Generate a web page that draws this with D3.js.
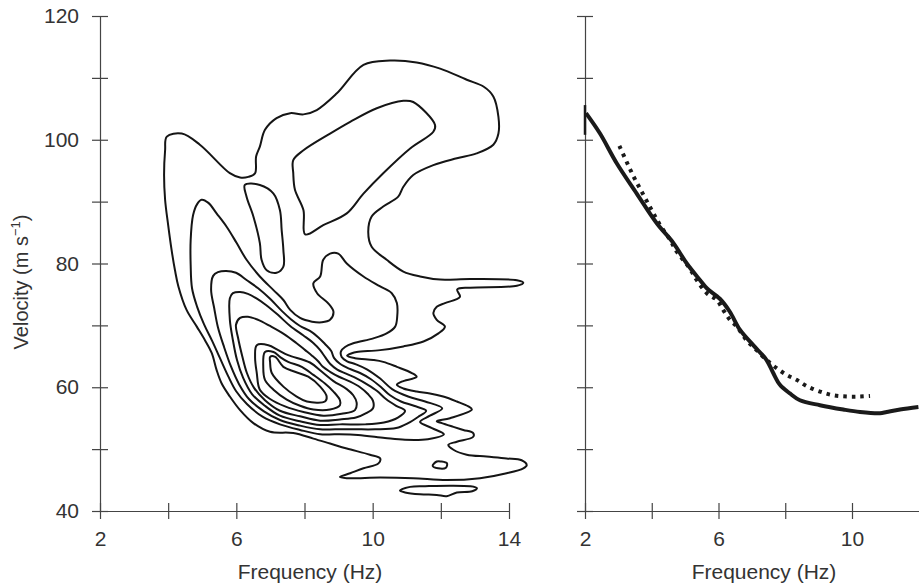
<!DOCTYPE html>
<html lang="en">
<head>
<meta charset="UTF-8">
<title>Dispersion image and picked curves</title>
<script src="https://d3js.org/d3.v7.min.js"></script>
<style>
  body { margin: 0; background: #fff; }
  svg { display: block; font-family: "Liberation Sans", Arial, Helvetica, sans-serif; }
  .axis path, .axis line { stroke: #444; stroke-width: 1.2; }
  .axis text { fill: #333; font-size: 21px; font-family: "Liberation Sans", Arial, sans-serif; }
  .contour { fill: none; stroke: #151515; stroke-width: 2; stroke-linejoin: round; }
  .title { fill: #333; font-size: 21px; }
</style>
</head>
<body>
<svg id="chart" width="919" height="586"></svg>
<script>
// ticks
const yTicks = [40, 50, 60, 70, 80, 90, 100, 110, 120];
const yTickLabels = [40, 60, 80, 100, 120];
const xTicksLeft = [2, 4, 6, 8, 10, 12, 14];
const xTicksRight = [2, 4, 6, 8, 10];
const xTickLabels = [2, 6, 10, 14];

// left panel: contour lines, [frequency Hz, velocity m/s]
const contourOuter = [
  [3.96,100.5],[4.40,101.0],[4.93,99.2],[5.81,94.6],[6.11,93.9],[6.35,94.0],[6.55,94.6],[6.58,97.3],[6.69,98.9],[6.84,101.6],
  [7.18,103.5],[7.58,104.3],[7.97,104.1],[8.36,104.8],[8.95,107.5],[9.73,112.1],[10.51,112.8],[11.29,112.5],[11.98,111.5],[12.76,109.7],
  [13.25,108.6],[13.54,107.0],[13.69,103.7],[13.69,101.0],[13.54,99.2],[13.05,97.8],[12.47,97.0],[11.78,95.9],[11.19,94.3],[10.90,92.4],
  [10.75,90.8],[10.31,89.2],[9.97,87.6],[9.87,85.1],[9.97,82.7],[10.41,80.6],[10.90,78.7],[11.39,77.9],[11.98,77.4],[12.86,77.5],
  [14.23,77.3],[14.42,76.9],[14.23,76.4],[12.86,76.1],[12.48,75.8],[12.56,74.6],[12.12,73.6],[11.88,73.0],[11.78,72.0],[11.88,70.9],
  [12.12,69.8],[11.93,68.7],[11.49,67.4],[10.90,66.6],[10.22,66.0],[9.53,65.7],[9.39,65.5],[9.25,65.1],[9.48,64.7],[10.02,64.4],
  [10.31,64.1],[10.71,63.3],[11.15,62.3],[11.29,61.7],[10.85,60.9],[10.71,60.4],[10.90,59.8],[11.29,59.3],[11.68,59.0],[12.07,58.5],
  [12.47,57.7],[12.81,56.9],[12.91,56.4],[12.27,55.0],[11.88,54.5],[12.03,54.2],[12.37,53.6],[12.66,53.1],[12.95,52.6],[12.95,52.0],
  [12.47,51.2],[12.22,50.7],[12.37,49.9],[12.76,49.1],[13.34,48.8],[13.93,48.5],[14.37,48.2],[14.52,47.4],[14.42,46.9],[13.93,46.1],
  [13.15,45.3],[12.17,45.0],[11.19,45.3],[10.22,45.4],[9.24,45.3],[9.04,45.5],[9.34,46.1],[9.73,46.9],[10.17,47.7],[10.22,48.5],
  [9.92,49.1],[9.24,50.1],[8.75,50.9],[8.26,51.7],[7.67,52.6],[6.99,52.8],[6.50,54.2],[6.11,56.3],[5.81,58.5],[5.57,60.6],
  [5.42,62.8],[5.28,65.5],[5.08,67.6],[4.84,69.8],[4.54,72.5],[4.30,76.3],[4.20,78.9],[4.10,82.2],[4.00,86.2],[3.91,90.3],
  [3.88,94.3],[3.91,98.3]
];
const contourHole = [
  [6.25,92.7],[6.69,92.7],[7.09,91.3],[7.28,88.6],[7.33,85.4],[7.38,82.2],[7.38,79.5],[7.18,78.5],[6.89,78.9],[6.74,80.6],
  [6.69,83.3],[6.50,87.6],[6.30,90.8]
];
const contourUpper = [
  [7.67,96.7],[7.97,98.3],[8.75,101.0],[9.34,102.9],[10.12,105.1],[10.90,106.3],[11.19,106.1],[11.83,102.4],[11.78,101.3],[11.10,98.6],
  [10.31,94.6],[9.73,91.3],[9.24,88.1],[8.55,86.2],[8.02,84.7],[7.97,88.6],[7.72,91.9],[7.67,94.6]
];
const contourD = [
  [4.98,90.3],[5.18,89.8],[5.42,88.1],[5.72,85.9],[6.01,83.3],[6.30,80.6],[6.69,77.9],[7.09,75.7],[7.38,74.1],[7.58,72.5],
  [7.87,71.2],[8.22,70.6],[8.51,70.5],[8.75,70.9],[8.85,72.2],[8.69,73.6],[8.37,75.2],[8.26,76.8],[8.46,77.9],[8.55,80.6],
  [8.75,81.6],[8.99,81.6],[9.24,80.0],[9.73,77.9],[10.22,76.3],[10.56,75.2],[10.71,73.6],[10.72,71.4],[10.66,69.8],[10.41,68.7],
  [10.02,67.9],[9.43,67.1],[9.19,66.5],[9.07,65.8],[9.09,64.9],[9.25,64.2],[9.51,63.7],[9.83,62.9],[10.22,61.4],[10.57,59.7],
  [11.04,58.5],[11.54,57.7],[12.04,56.6],[11.68,55.4],[11.39,54.4],[11.74,53.4],[12.09,52.4],[11.62,51.6],[10.95,51.5],[10.36,51.8],
  [9.57,52.3],[8.90,52.4],[8.46,52.4],[7.87,53.1],[7.28,54.0],[6.78,55.2],[6.31,57.3],[5.99,59.4],[5.76,61.8],[5.52,64.7],
  [5.29,67.5],[5.05,70.2],[4.85,73.0],[4.70,76.0],[4.66,79.8],[4.66,83.8],[4.73,87.8],[4.85,89.6]
];
const contourE = [
  [5.26,75.7],[5.32,78.0],[5.46,78.6],[5.70,78.8],[5.99,78.5],[6.31,77.3],[6.64,76.0],[6.99,74.3],[7.34,72.3],[7.60,71.0],
  [7.87,69.9],[8.16,69.1],[8.40,68.1],[8.60,67.0],[8.78,65.9],[8.87,64.7],[9.04,63.8],[9.31,63.0],[9.63,62.3],[9.95,61.3],
  [10.25,60.0],[10.51,58.7],[10.83,57.7],[11.21,57.0],[11.57,56.2],[11.33,55.2],[11.04,54.2],[10.69,53.4],[10.07,53.2],[9.48,53.2],
  [8.90,53.2],[8.46,53.2],[7.87,53.8],[7.28,54.7],[6.81,56.1],[6.37,58.1],[6.08,60.5],[5.84,63.4],[5.64,66.5],[5.46,69.7],
  [5.35,72.8]
];
const contourF = [
  [5.81,74.4],[5.90,75.2],[6.11,75.4],[6.34,75.1],[6.58,74.4],[6.87,73.3],[7.22,71.7],[7.58,69.9],[7.96,68.4],[8.25,67.2],
  [8.46,66.0],[8.60,64.9],[8.75,63.8],[8.95,62.9],[9.22,62.2],[9.54,61.4],[9.86,60.4],[10.13,59.4],[10.39,58.1],[10.69,57.0],
  [10.95,56.2],[10.74,55.1],[10.33,54.3],[9.78,54.0],[9.04,54.0],[8.46,53.9],[7.87,54.5],[7.28,55.4],[6.84,57.0],[6.46,58.9],
  [6.20,61.5],[6.02,64.4],[5.90,67.6],[5.81,70.9]
];
const contourG = [
  [6.11,71.2],[6.34,71.4],[6.64,70.9],[6.99,69.9],[7.40,68.6],[7.75,67.2],[8.02,66.0],[8.22,65.1],[8.40,64.2],[8.54,63.3],
  [8.75,62.5],[9.01,61.7],[9.34,60.9],[9.63,60.0],[9.86,58.9],[10.01,57.8],[10.01,56.6],[9.81,55.8],[9.51,55.1],[9.04,54.8],
  [8.46,54.6],[7.87,55.3],[7.28,56.2],[6.84,57.9],[6.52,59.9],[6.31,62.3],[6.17,65.1],[6.05,68.0],[5.99,70.1]
];
const contourH = [
  [6.60,66.8],[6.94,66.8],[7.23,66.0],[7.52,65.2],[8.16,64.0],[8.51,62.5],[8.85,61.0],[9.24,59.7],[9.43,58.7],[9.53,57.5],
  [9.48,56.3],[9.09,55.7],[8.55,55.4],[7.97,56.0],[7.43,56.9],[6.99,58.1],[6.69,59.6],[6.60,62.3],[6.55,64.9]
];
const contourI = [
  [6.84,65.7],[7.09,65.7],[7.28,64.9],[7.52,64.1],[7.92,63.3],[8.26,62.0],[8.60,60.6],[8.85,59.3],[9.04,57.9],[9.04,57.1],
  [8.75,56.4],[8.26,56.4],[7.87,57.0],[7.48,58.0],[7.09,59.6],[6.84,61.2],[6.79,63.3]
];
const contourJ = [
  [6.99,64.9],[7.14,64.9],[7.38,63.3],[7.72,62.5],[8.11,61.7],[8.46,60.1],[8.65,58.5],[8.60,57.7],[8.07,57.7],[7.77,58.5],
  [7.38,60.1],[7.04,62.3],[6.99,64.1]
];
const contourIsland = [[11.76,47.3],[11.88,48.0],[12.01,48.0],[12.18,47.7],[12.15,47.0],[11.92,46.9]];
const contourBottom = [
  [10.80,43.3],[11.10,43.9],[11.54,44.0],[12.27,44.1],[12.86,44.0],[13.06,43.7],[12.92,43.2],[12.47,43.0],[12.17,42.4],[11.88,42.6],
  [11.39,42.7],[10.95,43.0]
];

// right panel: picked dispersion curves
const solidCurve = [
  [2.03,104.3],[2.45,101.0],[2.95,96.2],[3.55,91.3],[4.15,86.5],[4.65,83.3],[5.05,80.0],[5.45,77.3],[5.65,76.0],[6.04,74.3],
  [6.34,72.2],[6.64,69.3],[7.04,66.8],[7.44,64.4],[7.64,62.3],[7.84,60.4],[8.14,59.0],[8.44,57.9],[9.04,57.1],[9.74,56.4],
  [10.24,56.0],[10.84,55.8],[11.04,56.0],[11.44,56.4],[11.99,56.8]
];
const solidEdge = [[2.0,105.6],[2.0,100.8]];
const dottedCurve = [
  [3.03,99.0],[3.25,96.4],[3.47,93.9],[3.73,91.3],[4.00,88.6],[4.25,86.2],[4.55,83.8],[4.75,81.9],[5.10,79.5],[5.35,77.3],
  [5.65,75.2],[5.95,74.1],[6.14,72.5],[6.34,70.9],[6.55,69.8],[6.84,67.6],[7.14,66.0],[7.44,64.4],[7.74,63.1],[8.04,62.0],
  [8.34,61.2],[8.64,60.2],[9.04,59.3],[9.44,58.7],[9.84,58.5],[10.24,58.5],[10.54,58.6]
];

const svg = d3.select("#chart");

const y = d3.scaleLinear().domain([40, 120]).range([511, 16]);
const xL = d3.scaleLinear().domain([2, 14]).range([100, 509]);
const xR = d3.scaleLinear().domain([2, 12]).range([585, 918.75]);

function drawYAxis(x0, labelled) {
  const g = svg.append("g").attr("class", "axis").attr("transform", `translate(${x0},0)`);
  g.call(d3.axisLeft(y).tickValues(yTicks).tickSizeInner(8).tickSizeOuter(0).tickPadding(13)
    .tickFormat(d => labelled && yTickLabels.includes(d) ? d : ""));
  g.selectAll(".tick line").attr("x1", 8); // ticks cross the axis
}

function drawXAxis(x, ticks) {
  const g = svg.append("g").attr("class", "axis").attr("transform", `translate(0,${y(40)})`);
  g.call(d3.axisBottom(x).tickValues(ticks).tickSizeInner(8).tickSizeOuter(0).tickPadding(12.5)
    .tickFormat(d => xTickLabels.includes(d) ? d : ""));
  g.selectAll(".tick line").attr("y1", -8);
}

drawYAxis(xL(2), true);
drawXAxis(xL, xTicksLeft);
drawYAxis(xR(2), false);
drawXAxis(xR, xTicksRight);

// contours
const contourLine = d3.line()
  .x(d => xL(d[0]))
  .y(d => y(d[1]))
  .curve(d3.curveCatmullRomClosed.alpha(0.5));

const contours = [contourOuter, contourHole, contourUpper, contourD, contourE, contourF,
  contourG, contourH, contourI, contourJ, contourIsland, contourBottom];

svg.append("g").selectAll("path")
  .data(contours)
  .enter().append("path")
    .attr("class", "contour")
    .attr("d", contourLine);

// right panel curves
const curveLine = d3.line()
  .x(d => xR(d[0]))
  .y(d => y(d[1]))
  .curve(d3.curveCatmullRom.alpha(0.5));

svg.append("path")
  .attr("d", d3.line().x(d => xR(d[0])).y(d => y(d[1]))(solidEdge))
  .attr("fill", "none").attr("stroke", "#1a1a1a").attr("stroke-width", 2.5);

svg.append("path")
  .attr("d", curveLine(dottedCurve))
  .attr("fill", "none").attr("stroke", "#1a1a1a")
  .attr("stroke-width", 4).attr("stroke-dasharray", "3.5,5");

svg.append("path")
  .attr("d", curveLine(solidCurve))
  .attr("fill", "none").attr("stroke", "#1a1a1a")
  .attr("stroke-width", 4).attr("stroke-linejoin", "round");

// axis titles
svg.append("text").attr("class", "title")
  .attr("x", 310).attr("y", 579).attr("text-anchor", "middle")
  .text("Frequency (Hz)");
svg.append("text").attr("class", "title")
  .attr("x", 764).attr("y", 579).attr("text-anchor", "middle")
  .text("Frequency (Hz)");

const yTitle = svg.append("text").attr("class", "title")
  .attr("transform", "translate(28,282) rotate(-90)")
  .attr("text-anchor", "middle")
  .style("font-size", "20px");
yTitle.append("tspan").text("Velocity (m s");
yTitle.append("tspan").attr("dy", -8).style("font-size", "13px").text("\u22121");
yTitle.append("tspan").attr("dy", 8).text(")");
</script>
</body>
</html>
